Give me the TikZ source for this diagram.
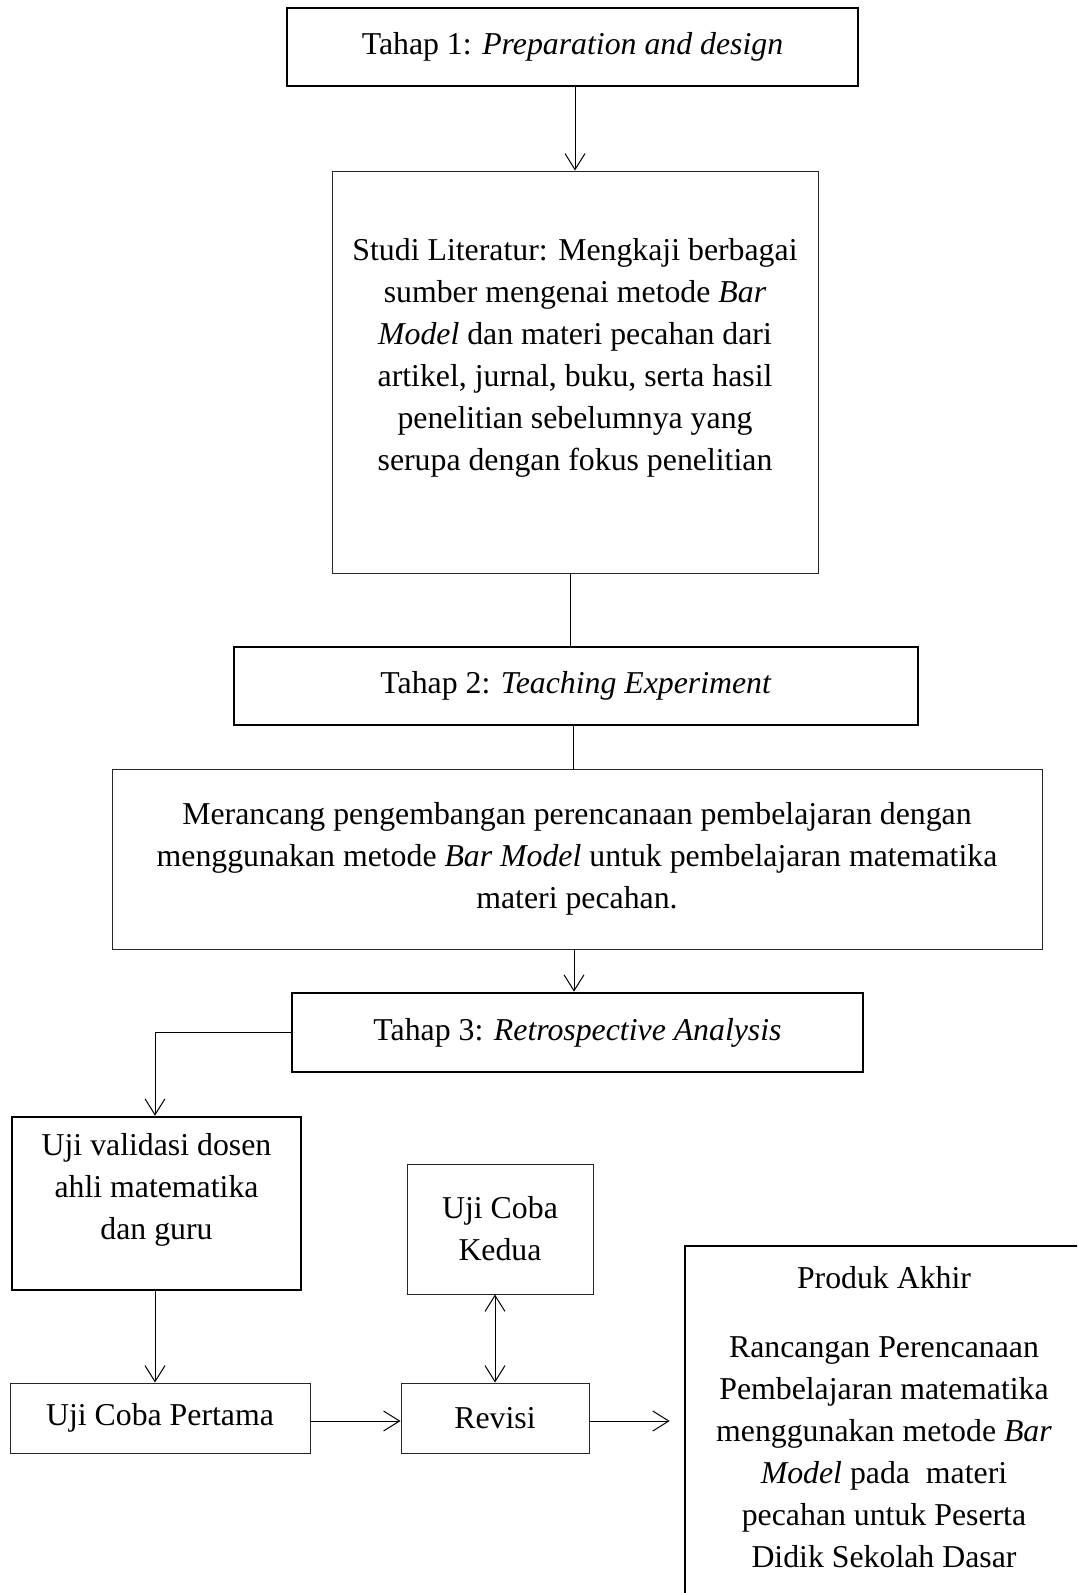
\documentclass[tikz,border=0pt]{standalone}
\usepackage{fontspec}
\setmainfont{Liberation Serif}
\usetikzlibrary{arrows.meta,calc}
\begin{document}
\begin{tikzpicture}[x=1pt,y=-1pt,
  txt/.style={font=\fontsize{31.8}{42}\selectfont, align=center, inner sep=0pt},
  thickbox/.style={draw=black, line width=2.6pt, inner sep=0pt, txt},
  thinbox/.style={draw=black!85, line width=1pt, inner sep=0pt, txt},
  conn/.style={draw=black, line width=1pt},
  arr/.style={conn, -{Straight Barb[length=16pt,width=20pt,line width=1pt]}},
  darr/.style={conn, {Straight Barb[length=16pt,width=20pt,line width=1pt]}-{Straight Barb[length=16pt,width=20pt,line width=1pt]}}
]
\useasboundingbox (0,0) rectangle (1077,1593);
\clip (0,0) rectangle (1077,1593);

% boxes
\node[thickbox, minimum width=571, minimum height=78] (t1) at (572.5,47)
  {Tahap 1: \textit{Preparation and design}};
\node[thinbox, minimum width=486, minimum height=402] (b2) at (575,372) {};
\node[txt] (b2txt) at (575,357.5)
  {Studi Literatur: Mengkaji berbagai\\
   sumber mengenai metode \textit{Bar}\\
   \textit{Model} dan materi pecahan dari\\
   artikel, jurnal, buku, serta hasil\\
   penelitian sebelumnya yang\\
   serupa dengan fokus penelitian};
\node[thickbox, minimum width=684, minimum height=78] (t2) at (576,686)
  {Tahap 2: \textit{Teaching Experiment}};
\node[thinbox, minimum width=930, minimum height=180] (b3) at (577,859)
  {Merancang pengembangan perencanaan pembelajaran dengan\\
   menggunakan metode \textit{Bar Model} untuk pembelajaran matematika\\
   materi pecahan.};
\node[thickbox, minimum width=571, minimum height=79] (t3) at (577.5,1032.5)
  {Tahap 3: \textit{Retrospective Analysis}};
\node[thickbox, minimum width=289, minimum height=173] (uv) at (156.5,1203.5) {};
\node[txt] (uvtxt) at (156.5,1190)
  {Uji validasi dosen\\ ahli matematika\\ dan guru};
\node[thinbox, minimum width=186, minimum height=130] (uck) at (500,1229)
  {Uji Coba\\ Kedua};
\node[thinbox, minimum width=300, minimum height=70] (ucp) at (160,1418)
  {Uji Coba Pertama};
\node[thinbox, minimum width=188, minimum height=70] (rev) at (495,1418)
  {Revisi};
\node[thickbox, minimum width=420, minimum height=380] (pa) at (895,1436) {};
\node[txt] (patitle) at (884,1278) {Produk Akhir};
\node[txt] (patxt) at (884,1452.5)
  {Rancangan Perencanaan\\
   Pembelajaran matematika\\
   menggunakan metode \textit{Bar}\\
   \textit{Model} pada\ \ materi\\
   pecahan untuk Peserta\\
   Didik Sekolah Dasar};

% connectors
\draw[arr] (b2.north |- t1.south) -- (b2.north);
\draw[conn] (b2.south -| 570,0) -- (t2.north -| 570,0);
\draw[conn] (t2.south -| 573,0) -- (b3.north -| 573,0);
\draw[arr] (b3.south -| 574,0) -- (t3.north -| 574,0);
\draw[arr] (t3.west) -| (uv.north -| 155,0);
\draw[arr] (uv.south -| 155,0) -- (ucp.north -| 155,0);
\draw[arr] (ucp.east |- 0,1421) -- (rev.west |- 0,1421);
\draw[darr] (uck.south -| rev.north) -- (rev.north);
\draw[arr, shorten >=14pt] (rev.east |- 0,1421) -- (pa.west |- 0,1421);
\end{tikzpicture}
\end{document}
